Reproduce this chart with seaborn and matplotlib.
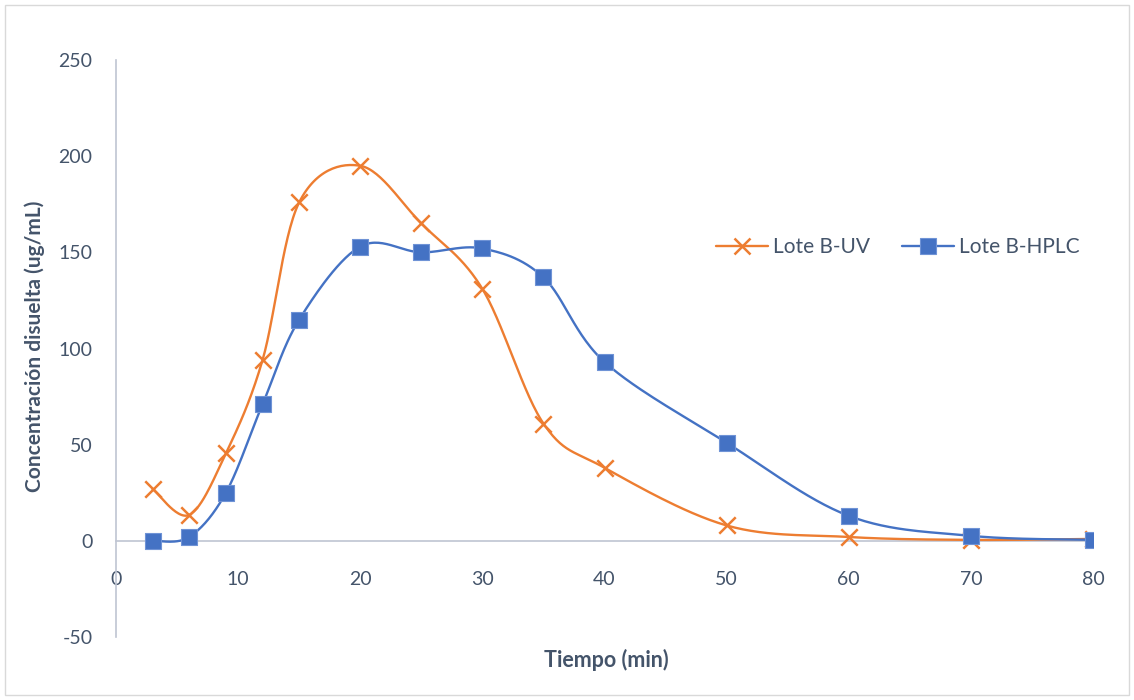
import numpy as np
import pandas as pd
import matplotlib
matplotlib.use("Agg")
import matplotlib.pyplot as plt
from matplotlib.lines import Line2D
from matplotlib.patches import Rectangle
import seaborn as sns

# ---- data ----
tiempo = [3, 6, 9, 12, 15, 20, 25, 30, 35, 40, 50, 60, 70, 80]
lote_uv = [27, 13.5, 45.5, 94, 176, 195, 165, 131, 61, 38, 8, 2, 0.5, 1]
lote_hplc = [0, 2, 25, 71, 115, 153, 150, 152, 137, 93, 51, 13, 2.6, 0.5]
series_names = ["Lote B-UV", "Lote B-HPLC"]
x_ticks = [0, 10, 20, 30, 40, 50, 60, 70, 80]
y_ticks = [-50, 0, 50, 100, 150, 200, 250]

ORANGE = "#ED7D31"
BLUE = "#4472C4"
TEXT = "#44546A"
AXIS = "#BFC5D2"

sns.set_theme(style="white")
plt.rcParams["font.family"] = ["Lato", "DejaVu Sans"]


def smooth(xs, ys, n=30):
    """Excel-like smoothed line: cubic Bezier with Catmull-Rom tangents."""
    xs = np.asarray(xs, float)
    ys = np.asarray(ys, float)
    P = np.column_stack([xs, ys])
    out = []
    m = len(P)
    for i in range(m - 1):
        p0 = P[i - 1] if i > 0 else P[i]
        p1 = P[i]
        p2 = P[i + 1]
        p3 = P[i + 2] if i + 2 < m else P[i + 1]
        c1 = p1 + (p2 - p0) / 6.0
        c2 = p2 - (p3 - p1) / 6.0
        t = np.linspace(0, 1, n, endpoint=(i == m - 2))[:, None]
        b = ((1 - t) ** 3) * p1 + 3 * ((1 - t) ** 2) * t * c1 + 3 * (1 - t) * t ** 2 * c2 + t ** 3 * p2
        out.append(b)
    out = np.vstack(out)
    return out[:, 0], out[:, 1]


W, H = 1134, 700
fig = plt.figure(figsize=(W / 100, H / 100), dpi=100)
fig.patch.set_facecolor("white")
fig.patches.append(Rectangle((5 / W, 5 / H), 1 - 10 / W, 1 - 10 / H, transform=fig.transFigure,
                             fill=False, edgecolor="#D9D9D9", linewidth=1.0))

left, right = 116 / W, 1093 / W
bottom, top = (H - 637) / H, (H - 60) / H
ax = fig.add_axes([left, bottom, right - left, top - bottom])

# smoothed lines
for ys, col in [(lote_uv, ORANGE), (lote_hplc, BLUE)]:
    sx, sy = smooth(tiempo, ys)
    sns.lineplot(x=sx, y=sy, ax=ax, color=col, linewidth=1.7, sort=False, estimator=None, zorder=3)

# markers
df_uv = pd.DataFrame({"t": tiempo, "c": lote_uv})
df_hp = pd.DataFrame({"t": tiempo, "c": lote_hplc})
sns.scatterplot(data=df_uv, x="t", y="c", ax=ax, marker="x", s=140, color=ORANGE,
                linewidth=1.8, zorder=4)
sns.scatterplot(data=df_hp, x="t", y="c", ax=ax, marker="s", s=135, color=BLUE,
                edgecolor="#6F93D6", linewidth=0.8, zorder=5)

ax.set_xlim(0, 80)
ax.set_ylim(-50, 250)
ax.set_xticks(x_ticks)
ax.set_yticks(y_ticks)
ax.set_xticklabels([str(v) for v in x_ticks])
ax.set_yticklabels([str(v) for v in y_ticks])

for s in ["top", "right"]:
    ax.spines[s].set_visible(False)
ax.spines["left"].set_color(AXIS)
ax.spines["left"].set_linewidth(1.2)
ax.spines["bottom"].set_position(("data", 0))
ax.spines["bottom"].set_color(AXIS)
ax.spines["bottom"].set_linewidth(1.2)
ax.spines["bottom"].set_zorder(1)

ax.tick_params(axis="both", length=0, labelsize=14, labelcolor=TEXT)
ax.tick_params(axis="x", pad=22)
ax.tick_params(axis="y", pad=17)
ax.grid(False)

ax.set_xlabel("Tiempo (min)", fontsize=15.5, fontweight="bold", color=TEXT)
ax.set_ylabel("Concentración disuelta (ug/mL)", fontsize=15, fontweight="bold", color=TEXT)
ax.xaxis.set_label_coords((606 / W - left) / (right - left), (H - 649 - H * bottom) / (H * (top - bottom)))
ax.yaxis.set_label_coords((45 / W - left) / (right - left), (H - 346 - H * bottom) / (H * (top - bottom)))

handles = [
    Line2D([], [], color=ORANGE, linewidth=1.7, marker="x", markersize=11, markeredgewidth=1.8),
    Line2D([], [], color=BLUE, linewidth=1.7, marker="s", markersize=11,
           markerfacecolor=BLUE, markeredgecolor="#6F93D6", markeredgewidth=0.8),
]
leg = fig.legend(handles, series_names, loc="center left", bbox_to_anchor=(716 / W, (H - 247) / H),
                 ncol=2, frameon=False, fontsize=15, handlelength=2.5, columnspacing=1.5,
                 handletextpad=0.25, borderpad=0, borderaxespad=0)
for t in leg.get_texts():
    t.set_color(TEXT)

fig.savefig("out.png", dpi=100, facecolor="white")
